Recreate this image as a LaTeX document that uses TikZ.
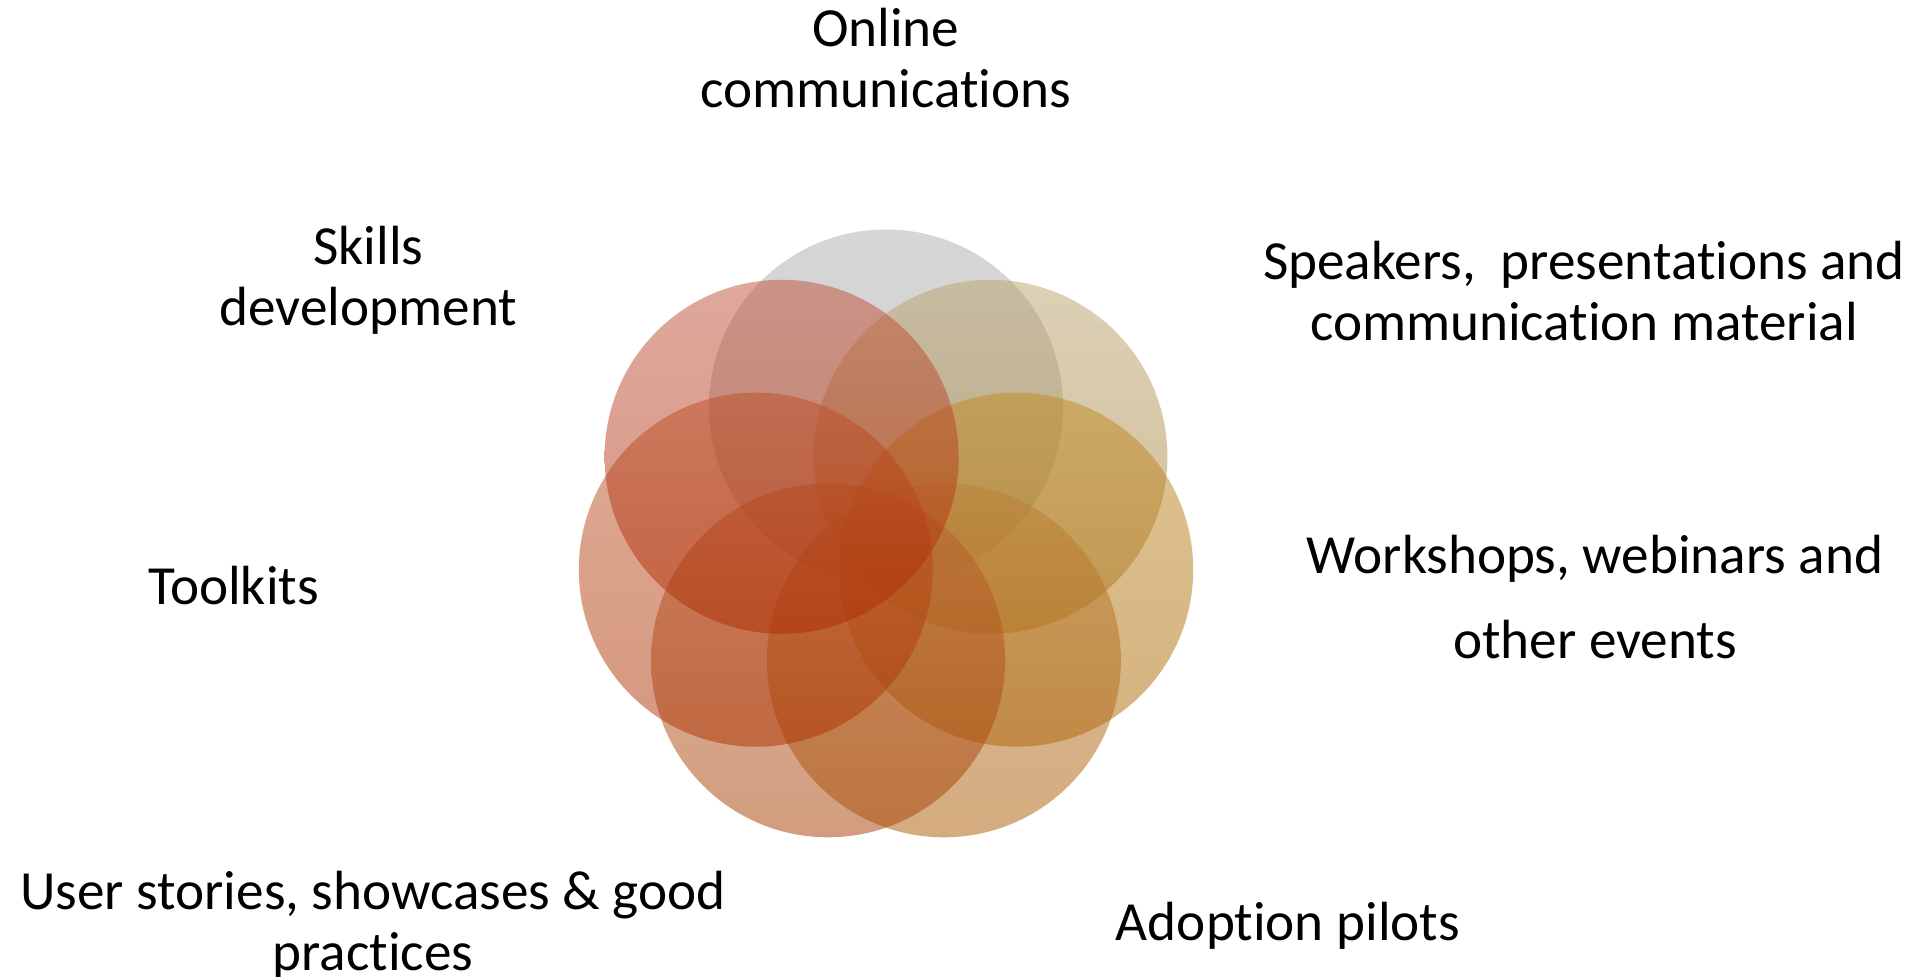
\documentclass[tikz,border=0pt]{standalone}
\usepackage{fontspec}
\setmainfont{Carlito}[Ligatures={NoCommon}]
\definecolor{tOnline}{RGB}{174,174,174}\definecolor{bOnline}{RGB}{164,164,164}
\definecolor{tSpeak}{RGB}{186,163,110}\definecolor{bSpeak}{RGB}{166,123,50}
\definecolor{tWork}{RGB}{191,141,35}\definecolor{bWork}{RGB}{171,101,0}
\definecolor{tAdopt}{RGB}{189,129,55}\definecolor{bAdopt}{RGB}{169,89,0}
\definecolor{tUser}{RGB}{187,101,54}\definecolor{bUser}{RGB}{167,61,0}
\definecolor{tTool}{RGB}{193,88,42}\definecolor{bTool}{RGB}{173,48,0}
\definecolor{tSkill}{RGB}{193,83,59}\definecolor{bSkill}{RGB}{173,43,0}
\tikzset{
  petal/.style={top color=t#1, bottom color=b#1, fill opacity=0.5, draw=none},
  label/.style={anchor=base, inner sep=0pt, font=\fontsize{27.6pt}{30.4pt}\selectfont},
  widelabel/.style={anchor=base, inner sep=0pt, font=\fontsize{27.6pt}{42.5pt}\selectfont}
}
\newcommand{\twoline}[2]{\begin{tabular}[t]{@{}c@{}}#1\\#2\end{tabular}}
\begin{document}
\begin{tikzpicture}[x=0.5pt,y=-0.5pt]
\useasboundingbox (0,0) rectangle (1921,977);
\fill[white] (0,0) rectangle (1921,977);
% circle centres
\coordinate (p0) at (886,406.5);
\coordinate (p1) at (990.4,456.8);
\coordinate (p2) at (1016.2,569.7);
\coordinate (p3) at (943.9,660.3);
\coordinate (p4) at (828.1,660.3);
\coordinate (p5) at (755.8,569.7);
\coordinate (p6) at (781.6,456.8);
\shade[petal=Online] (p0) circle[radius=88.5pt];
\shade[petal=Speak] (p1) circle[radius=88.5pt];
\shade[petal=Work] (p2) circle[radius=88.5pt];
\shade[petal=Adopt] (p3) circle[radius=88.5pt];
\shade[petal=User] (p4) circle[radius=88.5pt];
\shade[petal=Tool] (p5) circle[radius=88.5pt];
\shade[petal=Skill] (p6) circle[radius=88.5pt];
% labels
\node[label] (online) at (885.7,46.7) {\twoline{Online}{communications}};
\node[label] (speak) at (1584,280) {\twoline{Speakers,\ \ presentations and}{communication material}};
\node[widelabel] (work) at (1595,573.3) {\twoline{Workshops, webinars and}{other events}};
\node[label] (adopt) at (1288,940) {Adoption pilots};
\node[label] (user) at (373,909.3) {\twoline{User stories, showcases \& good}{practices}};
\node[label] (tool) at (233.4,605) {Toolkits};
\node[label] (skill) at (368.3,264.3) {\twoline{Skills}{development}};
\end{tikzpicture}
\end{document}
